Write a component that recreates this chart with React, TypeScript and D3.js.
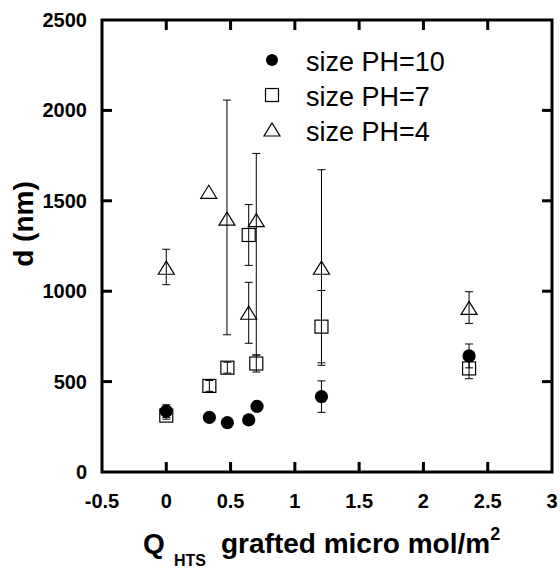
import React from "react";
import * as d3 from "d3";

// ---- data ----
const xPH10 = [0, 0.335, 0.475, 0.641, 0.706, 1.207, 2.355];
const yPH10 = [337, 302, 273, 288, 363, 417, 642];
const errPH10 = [35, 0, 0, 0, 0, 87, 66];

const xPH7 = [0, 0.335, 0.475, 0.641, 0.7, 1.207, 2.355];
const yPH7 = [312, 476, 577, 1311, 600, 804, 573];
const errPH7 = [20, 30, 30, 168, 47, 200, 57];

const xPH4 = [0, 0.33, 0.472, 0.641, 0.7, 1.207, 2.355];
const yPH4 = [1127, 1547, 1399, 878, 1390, 1127, 905];
const lowPH4 = [1036, 1547, 759, 712, 647, 590, 822];
const highPH4 = [1232, 1547, 2057, 1049, 1762, 1672, 997];

const xTicks = [-0.5, 0, 0.5, 1, 1.5, 2, 2.5, 3];
const yTicks = [0, 500, 1000, 1500, 2000, 2500];
const legendLabels = ["size PH=10", "size PH=7", "size PH=4"];

const FONT = "'Liberation Sans', Arial, sans-serif";

export default function App() {
  const W = 560, H = 568;
  const x = d3.scaleLinear().domain([-0.5, 3]).range([102, 552]);
  const y = d3.scaleLinear().domain([0, 2500]).range([472, 20]);
  const [x0, x1] = x.range();
  const [y0, y1] = y.range();
  const tickLen = 10;
  const cap = 4;

  const errBar = (cx: number, lo: number, hi: number, key: string) => {
    if (hi <= lo) return null;
    const px = x(cx);
    return (
      <g key={key} stroke="#000" strokeWidth={1}>
        <line x1={px} x2={px} y1={y(lo)} y2={y(hi)} />
        <line x1={px - cap} x2={px + cap} y1={y(lo)} y2={y(lo)} />
        <line x1={px - cap} x2={px + cap} y1={y(hi)} y2={y(hi)} />
      </g>
    );
  };

  const tri = (cx: number, cy: number, key: string) => (
    <path
      key={key}
      d={`M${cx - 8},${cy + 6} L${cx + 8},${cy + 6} L${cx},${cy - 7} Z`}
      fill="none"
      stroke="#000"
      strokeWidth={1.2}
    />
  );
  const sq = (cx: number, cy: number, key: string) => (
    <rect key={key} x={cx - 6.5} y={cy - 6.5} width={13} height={13} fill="none" stroke="#000" strokeWidth={1.2} />
  );
  const circ = (cx: number, cy: number, key: string, r = 6.6) => <circle key={key} cx={cx} cy={cy} r={r} fill="#000" />;

  const innerX = xTicks.filter((t) => t > -0.5 && t < 3);
  const innerY = yTicks.filter((t) => t > 0 && t < 2500);

  return (
    <div style={{ position: "absolute", left: 0, top: 0 }}>
      <svg width={W} height={H} style={{ display: "block", background: "#fff" }} fontFamily={FONT}>
        <rect width={W} height={H} fill="#fff" />
        {/* frame */}
        <rect x={x0} y={y1} width={x1 - x0} height={y0 - y1} fill="none" stroke="#000" strokeWidth={3} />
        {/* ticks */}
        <g stroke="#000" strokeWidth={3}>
          {innerX.map((t) => (
            <g key={"xt" + t}>
              <line x1={x(t)} x2={x(t)} y1={y0} y2={y0 - tickLen} />
              <line x1={x(t)} x2={x(t)} y1={y1} y2={y1 + tickLen} />
            </g>
          ))}
          {innerY.map((t) => (
            <g key={"yt" + t}>
              <line x1={x0} x2={x0 + tickLen} y1={y(t)} y2={y(t)} />
              <line x1={x1} x2={x1 - tickLen} y1={y(t)} y2={y(t)} />
            </g>
          ))}
        </g>
        {/* tick labels */}
        <g fontSize={20} fontWeight="bold" fill="#000">
          {xTicks.map((t) => (
            <text key={"xl" + t} x={x(t)} y={508} textAnchor="middle">
              {String(t)}
            </text>
          ))}
          {yTicks.map((t) => (
            <text key={"yl" + t} x={87} y={y(t) + 7} textAnchor="end">
              {String(t)}
            </text>
          ))}
        </g>
        {/* axis titles */}
        <text x={143} y={553} fontSize={28} fontWeight="bold">Q</text>
        <text x={174} y={566} fontSize={16} fontWeight="bold">HTS</text>
        <text x={221} y={553} fontSize={28} fontWeight="bold">
          grafted micro mol/m<tspan dy={-13} fontSize={18}>2</tspan>
        </text>
        <text transform="translate(33,224) rotate(-90)" textAnchor="middle" fontSize={28} fontWeight="bold">
          d (nm)
        </text>

        {/* error bars */}
        {xPH10.map((v, i) => errBar(v, yPH10[i] - errPH10[i], yPH10[i] + errPH10[i], "e10" + i))}
        {xPH7.map((v, i) => errBar(v, yPH7[i] - errPH7[i], yPH7[i] + errPH7[i], "e7" + i))}
        {xPH4.map((v, i) => errBar(v, lowPH4[i], highPH4[i], "e4" + i))}

        {/* markers */}
        {xPH4.map((v, i) => tri(x(v), y(yPH4[i]), "t" + i))}
        {xPH7.map((v, i) => sq(x(v), y(yPH7[i]), "s" + i))}
        {xPH10.map((v, i) => circ(x(v), y(yPH10[i]), "c" + i))}

        {/* legend */}
        {circ(272, 60, "lc", 6)}
        {sq(272, 95, "ls")}
        {tri(272, 130, "lt")}
        <g fontSize={27} fill="#000">
          {legendLabels.map((l, i) => (
            <text key={l} x={306} y={71 + i * 35}>
              {l}
            </text>
          ))}
        </g>
      </svg>
    </div>
  );
}
